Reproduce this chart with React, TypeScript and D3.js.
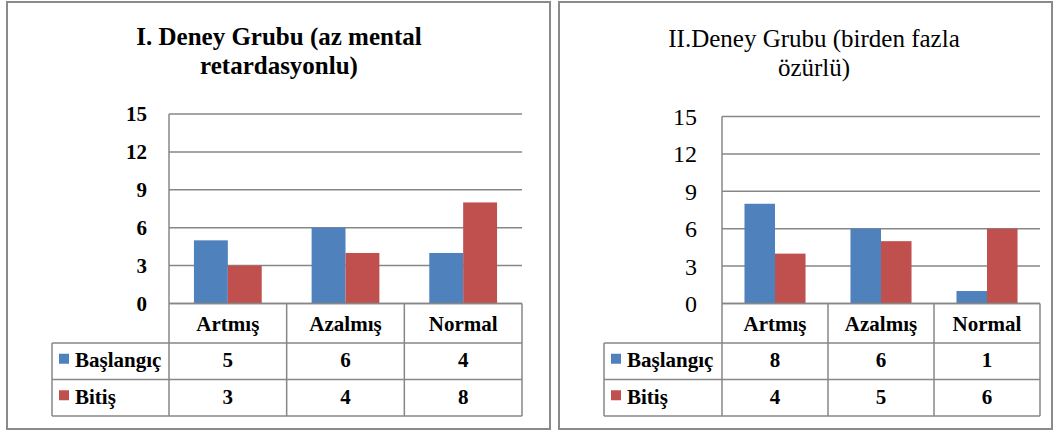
import React from 'react';
import * as d3 from 'd3';

const categories = ['Artmış', 'Azalmış', 'Normal'];
const seriesNames = ['Başlangıç', 'Bitiş'];
const group1Baslangic = [5, 6, 4];
const group1Bitis = [3, 4, 8];
const group2Baslangic = [8, 6, 1];
const group2Bitis = [4, 5, 6];
const yTicks = [0, 3, 6, 9, 12, 15];
const title1 = ['I. Deney Grubu (az mental', 'retardasyonlu)'];
const title2 = ['II.Deney Grubu (birden fazla', 'özürlü)'];

const colors = ['#4F81BD', '#C0504D'];
const gridColor = '#878787';
const FONT = 'Liberation Serif';

function Panel({ opt }) {
  const [bx0, by0, bx1, by1] = opt.box;
  const x0 = d3.scaleBand().domain(categories).range([opt.plotLeft, opt.plotRight]);
  const bw = x0.bandwidth();
  const x1 = d3.scaleBand().domain(seriesNames).range([bw * 0.212, bw * 0.788]);
  const y = d3.scaleLinear().domain([0, 15]).range([opt.yZero, opt.yTop]);
  const rows = opt.rows;
  const ln = { stroke: gridColor, strokeWidth: 1.5 };
  const cell = { fontFamily: FONT, fontSize: '21px', fontWeight: 'bold' };

  return (
    <g>
      {/* outer frame */}
      <rect x={bx0} y={by0} width={bx1 - bx0} height={by1 - by0}
        fill="white" stroke="#8a8a8a" strokeWidth={2} />

      {opt.title.map((t, i) => (
        <text key={'t' + i} x={opt.titleX} y={opt.titleY[i]} textAnchor="middle"
          style={{ fontFamily: FONT, fontSize: '25px', fontWeight: opt.titleBold ? 'bold' : 'normal' }}>
          {t}
        </text>
      ))}

      {/* gridlines and y labels */}
      {yTicks.map(t => (
        <g key={'g' + t}>
          <line x1={opt.plotLeft} x2={opt.plotRight} y1={y(t)} y2={y(t)} {...ln} />
          <text x={opt.tickX} y={y(t)} dy="0.35em" textAnchor="end"
            style={{ fontFamily: FONT, fontSize: opt.tickSize + 'px', fontWeight: opt.tickBold ? 'bold' : 'normal' }}>
            {t}
          </text>
        </g>
      ))}
      <line x1={opt.plotLeft} x2={opt.plotLeft} y1={y(15)} y2={rows[3]} {...ln} />

      {/* bars */}
      {opt.values.map((vals, si) => vals.map((v, i) => (
        <rect key={'b' + si + i}
          x={x0(categories[i]) + x1(seriesNames[si])}
          y={y(v)} width={x1.bandwidth()} height={y(0) - y(v)}
          fill={colors[si]} />
      )))}

      {/* data table */}
      <line x1={opt.plotLeft} x2={opt.plotRight} y1={rows[0]} y2={rows[0]} {...ln} />
      {[1, 2, 3].map(r => (
        <line key={'r' + r} x1={opt.legendLeft} x2={opt.plotRight} y1={rows[r]} y2={rows[r]} {...ln} />
      ))}
      <line x1={opt.legendLeft} x2={opt.legendLeft} y1={rows[1]} y2={rows[3]} {...ln} />
      {categories.map(c => (
        <g key={'c' + c}>
          <line x1={x0(c) + bw} x2={x0(c) + bw} y1={rows[0]} y2={rows[3]} {...ln} />
          <text x={x0(c) + bw / 2} y={(rows[0] + rows[1]) / 2} dy="0.35em" textAnchor="middle" style={cell}>{c}</text>
        </g>
      ))}
      {opt.values.map((vals, si) => {
        const cy = (rows[si + 1] + rows[si + 2]) / 2 - 1.5;
        return (
          <g key={'s' + si}>
            <rect x={opt.legendLeft + 7} y={cy - 6} width={10} height={10} fill={colors[si]} />
            <text x={opt.legendLeft + 23} y={cy} dy="0.35em" style={cell}>{seriesNames[si]}</text>
            {vals.map((v, i) => (
              <text key={i} x={x0(categories[i]) + bw / 2} y={cy} dy="0.35em" textAnchor="middle" style={cell}>{v}</text>
            ))}
          </g>
        );
      })}
    </g>
  );
}

export default function App() {
  const p1 = {
    box: [7, 2, 550, 429],
    title: title1, titleBold: true, titleX: 279, titleY: [45, 74],
    plotLeft: 169, plotRight: 522, yTop: 114, yZero: 303.5,
    rows: [303.5, 343, 379.5, 416], legendLeft: 52,
    tickX: 147, tickSize: 21, tickBold: true,
    values: [group1Baslangic, group1Bitis],
  };
  const p2 = {
    box: [559, 2, 1052, 429],
    title: title2, titleBold: false, titleX: 814, titleY: [47, 76],
    plotLeft: 722, plotRight: 1040, yTop: 116.5, yZero: 303.5,
    rows: [303.5, 343, 379.5, 416], legendLeft: 604,
    tickX: 697, tickSize: 24, tickBold: false,
    values: [group2Baslangic, group2Bitis],
  };
  return (
    <svg width={1058} height={433}
      style={{ position: 'absolute', left: 0, top: 0, display: 'block', background: 'white' }}>
      <Panel opt={p1} />
      <Panel opt={p2} />
    </svg>
  );
}
